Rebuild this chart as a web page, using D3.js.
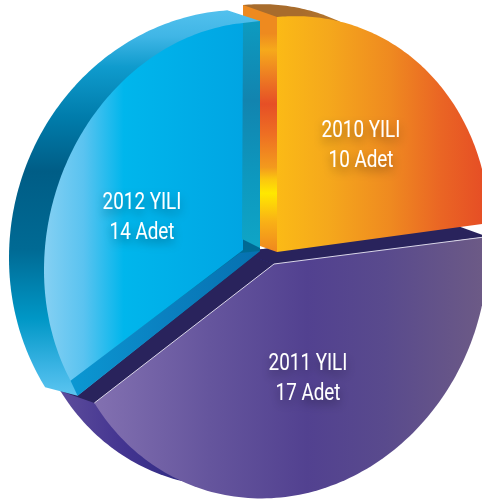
<!DOCTYPE html>
<html><head><meta charset="utf-8">
<style>html,body{margin:0;padding:0;background:#fff}svg{display:block}</style>
<script src="https://cdn.jsdelivr.net/npm/d3@7/dist/d3.min.js"></script>
</head><body><svg id="c" width="482" height="502"></svg>
<script>
// ---- data
const years = ['2010 YILI', '2011 YILI', '2012 YILI'];
const units = ['10 Adet', '17 Adet', '14 Adet'];
const counts = [10, 17, 14];

// ---- drawing geometry: the illustration is a hand-skewed pie, one affine per slice.
// index 3 is the outer rim of the blue slice, which does not follow its face.
const apexX = [277, 274, 243, 234], apexY = [252, 264, 250, 250];
const radiusX = [213, 214, 199, 225], radiusY = [235, 234, 227, 240], shear = [-20, -14, -20, -8];
const sliceOf = [0, 1, 2, 2];
const startNudge = [0, -0.019, 0.052, 0], endNudge = [0, 0, 0, -0.03];
const depthX = -34, depthY = -12;
const labelX = [361, 308, 142], labelY = [137, 370, 209], lineGap = 30;
const condense = 0.82;

const svg = d3.select('#c');
const defs = svg.append('defs');

function grad(id, x1, y1, x2, y2, stops) {
  const g = defs.append('linearGradient').attr('id', id).attr('gradientUnits', 'userSpaceOnUse')
    .attr('x1', x1).attr('y1', y1).attr('x2', x2).attr('y2', y2);
  stops.forEach(([o, c]) => g.append('stop').attr('offset', o).attr('stop-color', c));
  return `url(#${id})`;
}

const slices = d3.pie().sort(null)(counts);
const line = d3.line();

function project(i, angle, dx = 0, dy = 0) {
  const ux = Math.sin(angle), uy = -Math.cos(angle);
  return [apexX[i] + dx + radiusX[i] * ux, apexY[i] + dy + shear[i] * ux + radiusY[i] * uy];
}
const a0 = i => slices[sliceOf[i]].startAngle + startNudge[i];
const a1 = i => slices[sliceOf[i]].endAngle + endNudge[i];
function arcPoints(i, dx = 0, dy = 0) {
  return d3.range(0, 121).map(k => project(i, a0(i) + (a1(i) - a0(i)) * k / 120, dx, dy));
}
const sector = (i, dx = 0, dy = 0) => line([[apexX[i] + dx, apexY[i] + dy], ...arcPoints(i, dx, dy)]) + 'Z';
const startPt = (i, dx = 0, dy = 0) => project(i, a0(i), dx, dy);
const endPt = (i, dx = 0, dy = 0) => project(i, a1(i), dx, dy);
const apex = (i, dx = 0, dy = 0) => [apexX[i] + dx, apexY[i] + dy];
const poly = pts => line(pts) + 'Z';

// ---- gradients
const orangeFace = grad('of', 277, 0, 482, 0, [[0,'#fbba16'],[.25,'#f5a81c'],[.55,'#ef8a20'],[.8,'#ea6524'],[1,'#e64f25']]);
const orangeSide = grad('os', 0, 17, 0, 252, [[0,'#ee8a1f'],[.07,'#ee8a1f'],[.14,'#f6a91b'],[.24,'#ee8122'],[.37,'#e64f26'],[.5,'#ee6f23'],[.64,'#f39a1d'],[.69,'#fbc60f'],[.75,'#ffe800'],[.87,'#f9b116'],[1,'#ef871f']]);
const orangeBack = grad('ob', 243, 0, 340, 0, [[0,'#a86c2c'],[.6,'#a86c2c'],[1,'#b9792a']]);
const blueFace = grad('bf', 44, 0, 243, 0, [[0,'#85d0f3'],[.2,'#5ac3f0'],[.4,'#00b6ec'],[1,'#00a5e3']]);
const blueRing = grad('br', 0, 9, 0, 396, [[0,'#53c1ee'],[.07,'#40b6e6'],[.15,'#0f9bcd'],[.28,'#007cab'],[.42,'#005d86'],[.62,'#006a94'],[.8,'#0097c6'],[.93,'#3db5e5'],[1,'#5cc5f0']]);
const blueBand = grad('bb', 72, 0, 260, 0, [[0,'#0b97d2'],[.5,'#0a80c0'],[1,'#0671b0']]);
const teal = grad('tl', 0, 21, 0, 248, [[0,'#0d9bc0'],[.35,'#1284af'],[.7,'#0d99bf'],[1,'#0fa5c6']]);
const purpleFace = grad('pf', 93, 0, 482, 0, [[0,'#8371b1'],[.3,'#65559d'],[.55,'#524190'],[.75,'#594a8d'],[1,'#6c5a86']]);
const purpleBack = grad('pb', 58, 0, 190, 0, [[0,'#5d4d9c'],[.5,'#433490'],[1,'#2e2b82']]);
const navy = '#29235c';

const g = svg.append('g');
const add = (d, fill) => g.append('path').attr('d', d).attr('fill', fill);

// ---- purple slice
add(sector(1, depthX, depthY), purpleBack);
add(poly([apex(1, depthX, depthY), startPt(1, depthX, depthY), startPt(1), apex(1)]), navy);
add(poly([apex(1, depthX, depthY), endPt(1, depthX, depthY), endPt(1), apex(1)]), navy);
add(sector(1), purpleFace);
g.append('path').attr('d', line([startPt(1), apex(1), endPt(1)]))
  .attr('fill', 'none').attr('stroke', '#d9d5e6').attr('stroke-width', 1);

// ---- orange slice
add(sector(0, depthX, depthY), orangeBack);
add(poly([startPt(0, depthX, depthY), startPt(0), apex(0), apex(0, depthX, depthY)]), orangeSide);
add(sector(0), orangeFace);

// ---- blue slice
const frontEnd = [apexX[2] + 17, apexY[2] - 229];
const frontApex = [apexX[2] + 17, apexY[2] + 1];
const frontStart = [startPt(2)[0] + 7, startPt(2)[1] + 15];
add(poly([...arcPoints(3), frontEnd, frontApex, frontStart]), blueRing);
add(sector(2), blueFace);
add(poly([startPt(2), frontStart, frontApex, apex(2, -3, 3)]), blueBand);
add(poly([endPt(2), frontEnd, [frontEnd[0], frontApex[1] - 3], [apexX[2] - 1, apexY[2] - 11]]), teal);

// ---- labels
const shadow = defs.append('filter').attr('id', 'sh').attr('x', '-40%').attr('y', '-60%').attr('width', '180%').attr('height', '240%');
shadow.append('feDropShadow').attr('dx', 0).attr('dy', 5).attr('stdDeviation', 5).attr('flood-color', '#000').attr('flood-opacity', .38);
years.forEach((y, i) => {
  const t = svg.append('g').attr('filter', 'url(#sh)').attr('fill', '#fff')
    .attr('font-family', 'Roboto,sans-serif').attr('font-size', 23).attr('text-anchor', 'middle');
  [y, units[i]].forEach((s, k) => t.append('text')
    .attr('transform', `translate(${labelX[i]},${labelY[i] + k * lineGap}) scale(${condense},1)`).text(s));
});
</script></body></html>
